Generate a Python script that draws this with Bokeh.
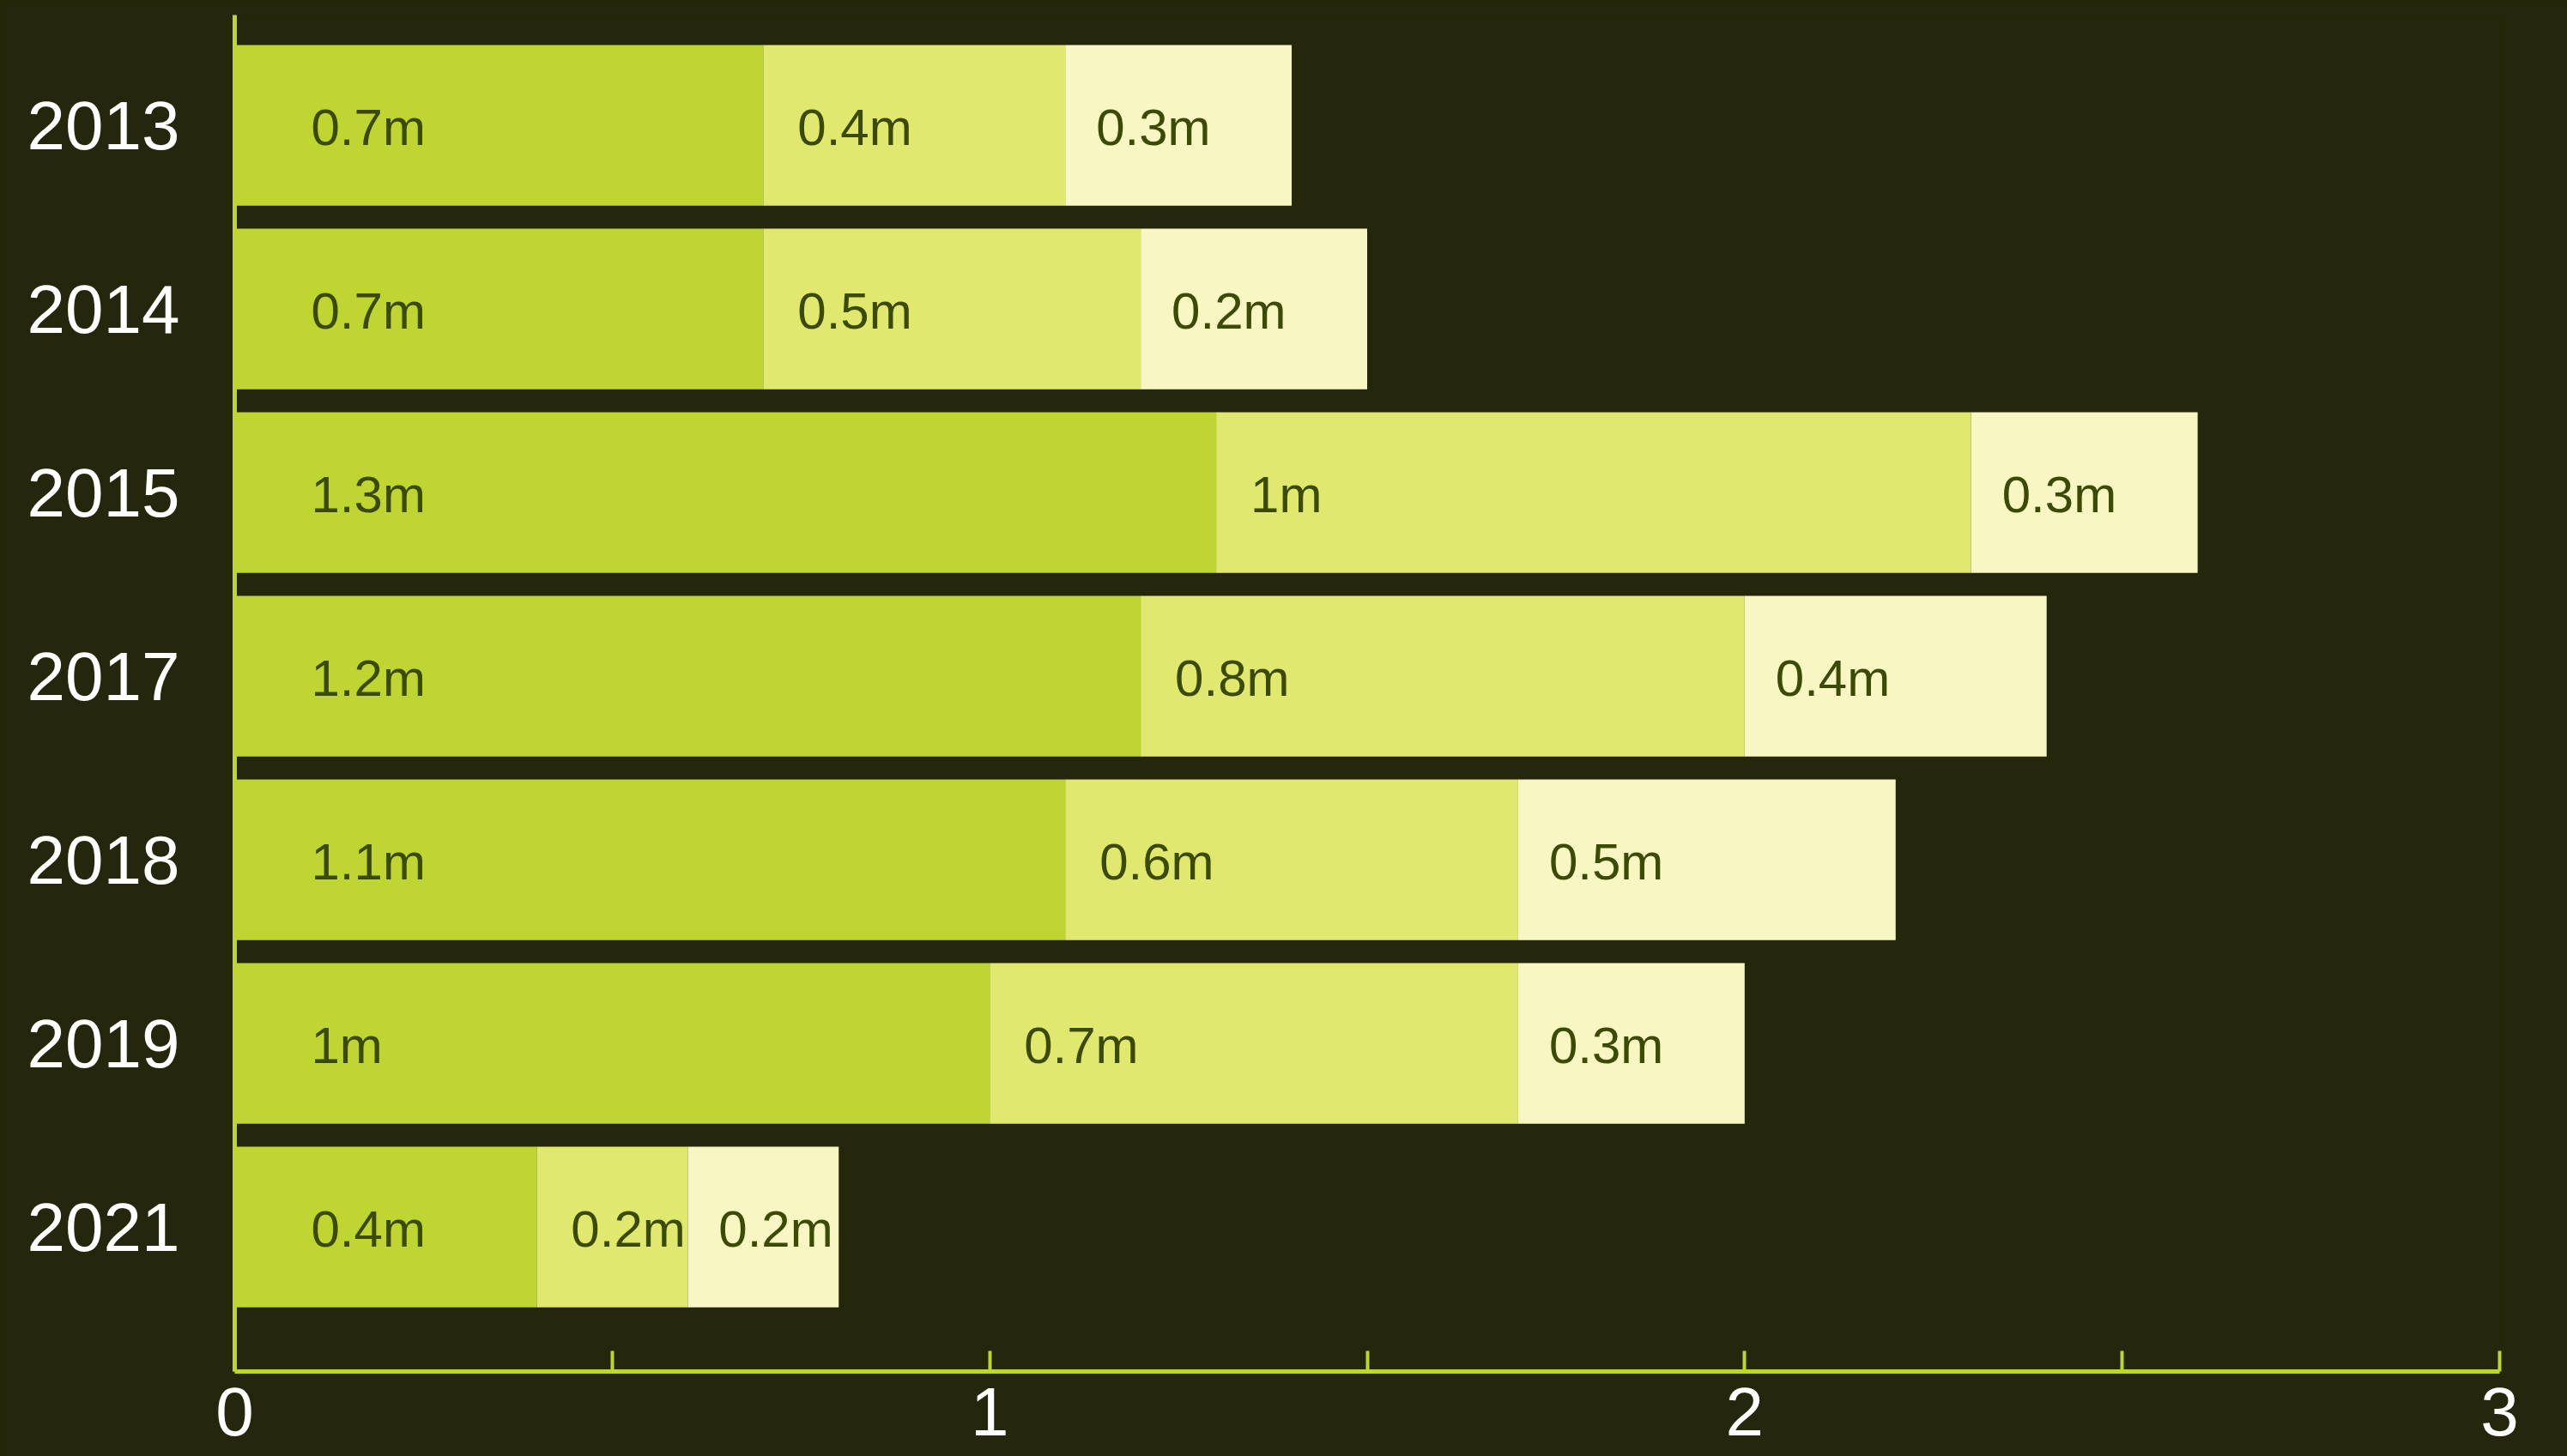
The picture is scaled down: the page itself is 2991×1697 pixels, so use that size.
import numpy as np
from bokeh.plotting import figure
from bokeh.models import ColumnDataSource, Range1d, FixedTicker
from bokeh.core.properties import value
from bokeh.embed import file_html
from bokeh.resources import INLINE

# ---- data ----
years = ["2013", "2014", "2015", "2017", "2018", "2019", "2021"]
seg1 = [0.7, 0.7, 1.3, 1.2, 1.1, 1.0, 0.4]
seg2 = [0.4, 0.5, 1.0, 0.8, 0.6, 0.7, 0.2]
seg3 = [0.3, 0.3, 0.3, 0.4, 0.5, 0.3, 0.2]
lab1 = ["0.7m", "0.7m", "1.3m", "1.2m", "1.1m", "1m", "0.4m"]
lab2 = ["0.4m", "0.5m", "1m", "0.8m", "0.6m", "0.7m", "0.2m"]
lab3 = ["0.3m", "0.2m", "0.3m", "0.4m", "0.5m", "0.3m", "0.2m"]
x_ticks = [0, 0.5, 1, 1.5, 2, 2.5, 3]
x_tick_labels = ["0", "", "1", "", "2", "", "3"]

# ---- style ----
BG = "#24270b"
C1 = "#bfd531"
C2 = "#e1e870"
C3 = "#f8f7c3"
TXT = "#3b4a04"
AXIS = "#bfd531"
FONT = "Liberation Sans"

idx = np.arange(len(years))
s1 = np.array(seg1)
s2 = np.array(seg2)
s3 = np.array(seg3)
l1, r1 = np.zeros(len(years)), s1
l2, r2 = s1, s1 + s2
l3, r3 = s1 + s2, s1 + s2 + s3

p = figure(frame_width=2639, frame_height=1581, output_backend="svg", toolbar_location=None,
           x_range=Range1d(0, 3), y_range=Range1d(6.787, -0.601),
           min_border_left=273, min_border_right=79, min_border_top=17, min_border_bottom=99)
p.background_fill_color = BG
p.border_fill_color = BG
p.outline_line_color = None
p.xgrid.visible = False
p.ygrid.visible = False

for left, right, color in [(l1, r1, C1), (l2, r2, C2), (l3, r3, C3)]:
    src = ColumnDataSource(dict(y=idx, left=left, right=right))
    p.hbar(y="y", left="left", right="right", height=0.875, source=src,
           fill_color=color, line_color=None)

for left, labels, off in [(l1, lab1, 89), (l2, lab2, 40), (l3, lab3, 36)]:
    src = ColumnDataSource(dict(x=left, y=idx, t=labels))
    p.text(x="x", y="y", text="t", source=src, x_offset=off, y_offset=2,
           text_align="left", text_baseline="middle",
           text_font=value(FONT), text_font_size="60px", text_color=TXT)

# x axis
xa = p.xaxis[0]
xa.ticker = FixedTicker(ticks=x_ticks)
xa.major_label_overrides = {t: l for t, l in zip(x_ticks, x_tick_labels)}
xa.axis_line_color = AXIS
xa.axis_line_width = 5
xa.major_tick_line_color = AXIS
xa.major_tick_line_width = 4
xa.major_tick_in = 24
xa.major_tick_out = 0
xa.minor_tick_line_color = None
xa.major_label_text_font = FONT
xa.major_label_text_font_size = "80px"
xa.major_label_text_color = "white"
xa.major_label_standoff = 19

# y axis
ya = p.yaxis[0]
ya.ticker = FixedTicker(ticks=list(idx))
ya.major_label_overrides = {int(i): y for i, y in zip(idx, years)}
ya.axis_line_color = AXIS
ya.axis_line_width = 5
ya.major_tick_line_color = None
ya.major_tick_in = 0
ya.major_tick_out = 0
ya.minor_tick_line_color = None
ya.major_label_text_font = FONT
ya.major_label_text_font_size = "80px"
ya.major_label_text_color = "white"
ya.major_label_standoff = 64

html = file_html(p, INLINE)
style = "<style>html, body { margin: 0; background-color: %s; }</style>" % BG
html = html.replace("</head>", style + "</head>", 1)
open("out.html", "w").write(html)
